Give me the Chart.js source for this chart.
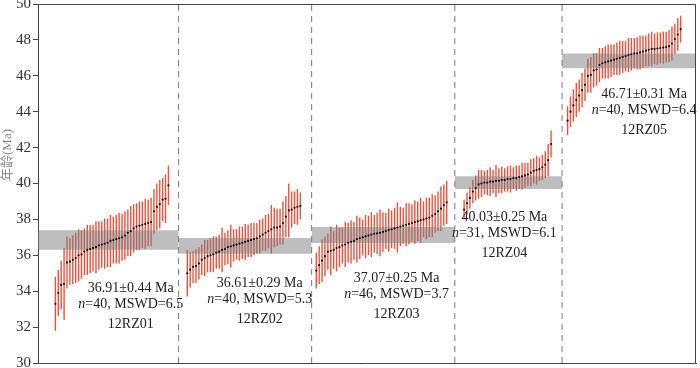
<!DOCTYPE html>
<html><head><meta charset="utf-8">
<script src="https://cdn.jsdelivr.net/npm/chart.js@4"></script>
<style>html,body{margin:0;padding:0;background:#fff}#wrap{width:700px;height:368px}</style>
</head><body><div id="wrap"><canvas id="c" width="700" height="368"></canvas></div>
<script>
// ---------------- DATA ----------------
const sampleNames = ['12RZ01', '12RZ02', '12RZ03', '12RZ04', '12RZ05'];
const meanAges = ['36.91', '36.61', '37.07', '40.03', '46.71'];
const meanErrs = ['0.44', '0.29', '0.25', '0.25', '0.31'];
const nCounts = [40, 40, 46, 31, 40];
const mswdValues = ['6.5', '5.3', '3.7', '6.1', '6.4'];
// grey weighted-mean bands as drawn (lower / upper age, Ma)
const bandLow = [36.31, 36.09, 36.68, 39.70, 46.42];
const bandHigh = [37.39, 36.96, 37.58, 40.41, 47.24];

const ages12RZ01 = [33.3, 33.9, 34.35, 34.4, 35.6, 35.65, 35.75, 35.85, 36.0, 36.05, 36.2, 36.3, 36.35, 36.4, 36.45, 36.55, 36.6, 36.65, 36.7, 36.8, 36.85, 36.9, 36.95, 37.0, 37.1, 37.25, 37.35, 37.5, 37.6, 37.65, 37.7, 37.75, 37.8, 37.85, 38.45, 38.7, 38.85, 39.1, 39.15, 39.9];
const errs12RZ01 = [1.5, 1.3, 1.35, 2.0, 1.45, 1.3, 1.35, 1.4, 1.45, 1.35, 1.3, 1.4, 1.35, 1.3, 1.45, 1.35, 1.3, 1.4, 1.35, 1.45, 1.3, 1.35, 1.4, 1.3, 1.35, 1.3, 1.4, 1.35, 1.3, 1.35, 1.3, 1.4, 1.3, 1.35, 1.25, 1.3, 1.35, 1.2, 1.35, 1.1];

const ages12RZ02 = [35.0, 35.2, 35.35, 35.4, 35.55, 35.75, 35.85, 35.95, 36.0, 36.05, 36.15, 36.2, 36.3, 36.35, 36.45, 36.5, 36.55, 36.6, 36.65, 36.7, 36.75, 36.8, 36.85, 36.9, 36.95, 37.05, 37.15, 37.25, 37.35, 37.45, 37.55, 37.55, 37.6, 37.8, 38.15, 38.5, 38.55, 38.65, 38.7, 38.75];
const errs12RZ02 = [1.3, 1.0, 0.9, 0.95, 0.9, 0.85, 1.0, 0.9, 0.95, 1.0, 0.9, 0.95, 1.25, 0.9, 0.95, 1.2, 0.9, 0.85, 0.95, 0.9, 1.0, 0.9, 0.95, 0.9, 0.85, 0.95, 0.9, 1.0, 0.95, 1.35, 1.1, 1.05, 1.0, 1.2, 1.15, 1.5, 1.0, 0.9, 1.0, 0.75];

const ages12RZ03 = [35.15, 35.45, 35.7, 35.95, 36.2, 36.25, 36.3, 36.4, 36.45, 36.55, 36.6, 36.7, 36.75, 36.8, 36.9, 36.95, 37.0, 37.05, 37.1, 37.15, 37.2, 37.22, 37.25, 37.3, 37.35, 37.4, 37.45, 37.5, 37.55, 37.6, 37.65, 37.7, 37.75, 37.8, 37.85, 37.9, 37.95, 38.0, 38.05, 38.1, 38.2, 38.3, 38.45, 38.6, 38.8, 38.95];
const errs12RZ03 = [1.0, 1.05, 1.2, 1.1, 1.0, 1.35, 1.05, 1.3, 1.1, 1.0, 1.25, 1.1, 1.2, 1.05, 1.3, 1.15, 1.0, 1.2, 1.1, 1.25, 1.05, 1.15, 1.3, 1.1, 1.0, 1.2, 1.05, 1.15, 1.4, 1.1, 1.0, 1.2, 1.15, 1.05, 1.2, 1.1, 1.25, 1.0, 1.15, 1.1, 1.2, 1.05, 1.1, 1.25, 1.15, 1.2];

const ages12RZ04 = [38.55, 38.9, 39.2, 39.55, 39.75, 39.95, 40.0, 40.05, 40.05, 40.1, 40.1, 40.15, 40.15, 40.2, 40.2, 40.25, 40.25, 40.3, 40.3, 40.35, 40.4, 40.45, 40.5, 40.6, 40.7, 40.75, 40.8, 40.9, 41.05, 41.3, 42.2];
const errs12RZ04 = [0.55, 0.6, 0.6, 0.65, 0.7, 0.8, 0.75, 0.65, 0.7, 0.8, 0.65, 0.9, 0.7, 0.75, 0.65, 0.7, 0.75, 0.6, 0.7, 0.65, 0.75, 0.7, 0.65, 0.75, 0.7, 0.8, 0.65, 0.7, 0.75, 0.9, 0.75];

const ages12RZ05 = [43.5, 44.0, 44.35, 44.65, 44.9, 45.2, 45.5, 46.0, 46.05, 46.3, 46.35, 46.6, 46.7, 46.75, 46.8, 46.85, 46.9, 46.95, 47.0, 47.05, 47.1, 47.15, 47.2, 47.25, 47.25, 47.3, 47.35, 47.4, 47.45, 47.5, 47.5, 47.52, 47.55, 47.57, 47.6, 47.65, 47.8, 48.05, 48.3, 48.6];
const errs12RZ05 = [0.8, 0.85, 0.9, 0.95, 0.9, 0.95, 0.9, 0.95, 1.0, 0.95, 0.9, 0.95, 0.85, 0.9, 0.95, 0.9, 0.85, 0.9, 0.95, 0.9, 0.85, 0.95, 0.9, 0.85, 0.9, 0.95, 0.9, 0.85, 0.9, 0.95, 0.85, 0.9, 0.85, 0.9, 0.85, 0.9, 0.95, 0.85, 0.9, 0.75];

const yTicks = [30, 32, 34, 36, 38, 40, 42, 44, 46, 48, 50];
const yTitle = '年龄(Ma)';

// ---------------- LAYOUT (positions, not data) ----------------
const X_MIN = 0, X_MAX = 227;
const groupStartX = [6, 51.5, 96, 147, 182.7];
const separatorX = [48.5, 94.4, 143.8, 180.8];
const labelAnchorX = [32.0, 76.5, 123.7, 160.9, 209.1];
const labelAnchorY = [34.18, 34.46, 34.70, 38.13, 44.99];

const allAges = [ages12RZ01, ages12RZ02, ages12RZ03, ages12RZ04, ages12RZ05];
const allErrs = [errs12RZ01, errs12RZ02, errs12RZ03, errs12RZ04, errs12RZ05];

const RED = '#e8533e';
const errLineData = [], dotData = [];
allAges.forEach((arr, g) => {
  arr.forEach((a, i) => {
    const x = groupStartX[g] + i;
    errLineData.push({x: x, y: a - allErrs[g][i]});
    errLineData.push({x: x, y: a + allErrs[g][i]});
    errLineData.push({x: x, y: null});
    dotData.push({x: x, y: a});
  });
});

const datasets = [];
datasets.push({type: 'line', label: 'err', data: errLineData, borderColor: RED, borderWidth: 1.4,
  pointRadius: 0, spanGaps: false, fill: false, order: 3, borderCapStyle: 'butt'});
const bandEdges = [X_MIN].concat(separatorX).concat([X_MAX]);
for (let g = 0; g < 5; g++) {
  datasets.push({type: 'line', label: 'band' + g,
    data: [{x: bandEdges[g], y: bandHigh[g]}, {x: bandEdges[g + 1], y: bandHigh[g]}],
    fill: {value: bandLow[g]}, backgroundColor: 'rgba(125,125,125,0.5)', borderWidth: 0,
    pointRadius: 0, order: 2});
}
separatorX.forEach((sx, k) => {
  datasets.push({type: 'line', label: 'sep' + k, data: [{x: sx, y: 30}, {x: sx, y: 50}],
    borderColor: '#7a7a7a', borderWidth: 1, borderDash: [6, 5], pointRadius: 0, fill: false, order: 1});
});
datasets.push({type: 'scatter', label: 'age', data: dotData, backgroundColor: '#111', borderWidth: 0,
  pointRadius: 1.1, order: 0});

const SERIF = '"Liberation Serif", "Times New Roman", serif';

const framePlugin = {
  id: 'frame',
  afterDraw(chart) {
    const {ctx, chartArea: a} = chart;
    ctx.save();
    ctx.strokeStyle = '#444';
    ctx.lineWidth = 1;
    ctx.beginPath();
    ctx.moveTo(a.left, Math.round(a.top) + 0.5);
    ctx.lineTo(a.right, Math.round(a.top) + 0.5);
    ctx.moveTo(Math.round(a.right) - 0.5, a.top);
    ctx.lineTo(Math.round(a.right) - 0.5, a.bottom);
    ctx.stroke();
    ctx.restore();
  }
};

const textPlugin = {
  id: 'texts',
  afterDatasetsDraw(chart) {
    const {ctx, scales: {x, y}} = chart;
    ctx.save();
    ctx.fillStyle = '#222';
    ctx.textBaseline = 'middle';
    for (let g = 0; g < 5; g++) {
      const cx = x.getPixelForValue(labelAnchorX[g]);
      const cy = y.getPixelForValue(labelAnchorY[g]);
      ctx.font = '14px ' + SERIF;
      ctx.textAlign = 'center';
      ctx.fillText(meanAges[g] + '±' + meanErrs[g] + ' Ma', cx, cy);
      const rest = '=' + nCounts[g] + ', MSWD=' + mswdValues[g];
      ctx.font = 'italic 14px ' + SERIF;
      const wN = ctx.measureText('n').width;
      ctx.font = '14px ' + SERIF;
      const wR = ctx.measureText(rest).width;
      const x0 = cx - (wN + wR) / 2;
      ctx.textAlign = 'left';
      ctx.font = 'italic 14px ' + SERIF;
      ctx.fillText('n', x0, cy + 16);
      ctx.font = '14px ' + SERIF;
      ctx.fillText(rest, x0 + wN, cy + 16);
      ctx.textAlign = 'center';
      ctx.fillText(sampleNames[g], cx, cy + 36);
    }
    ctx.translate(8, 155);
    ctx.rotate(-Math.PI / 2);
    ctx.fillStyle = '#888';
    ctx.textAlign = 'center';
    ctx.font = '13px "Liberation Serif", "Noto Sans CJK SC", serif';
    ctx.fillText(yTitle, 0, 0);
    ctx.restore();
  }
};

new Chart(document.getElementById('c'), {
  type: 'scatter',
  data: {datasets: datasets},
  options: {
    responsive: false,
    devicePixelRatio: 1,
    animation: false,
    layout: {padding: {top: 4, right: 3, bottom: 0, left: 0}},
    plugins: {legend: {display: false}, tooltip: {enabled: false}, title: {display: false}},
    scales: {
      x: {
        type: 'linear', min: X_MIN, max: X_MAX, offset: false,
        ticks: {display: false},
        grid: {display: false},
        border: {display: true, color: '#444', width: 1},
        afterFit(s) { s.height = 5; s.paddingLeft = 0; s.paddingRight = 0; }
      },
      y: {
        type: 'linear', min: 30, max: 50,
        afterBuildTicks(s) { s.ticks = yTicks.map(v => ({value: v})); },
        ticks: {color: '#333', font: {family: SERIF, size: 15}, padding: 2},
        grid: {display: true, drawOnChartArea: false, drawTicks: true, tickLength: 5, color: '#444'},
        border: {display: true, color: '#444', width: 1},
        afterFit(s) { s.width = 38; s.paddingTop = 0; s.paddingBottom = 0; }
      }
    }
  },
  plugins: [framePlugin, textPlugin]
});
</script>
</body></html>
